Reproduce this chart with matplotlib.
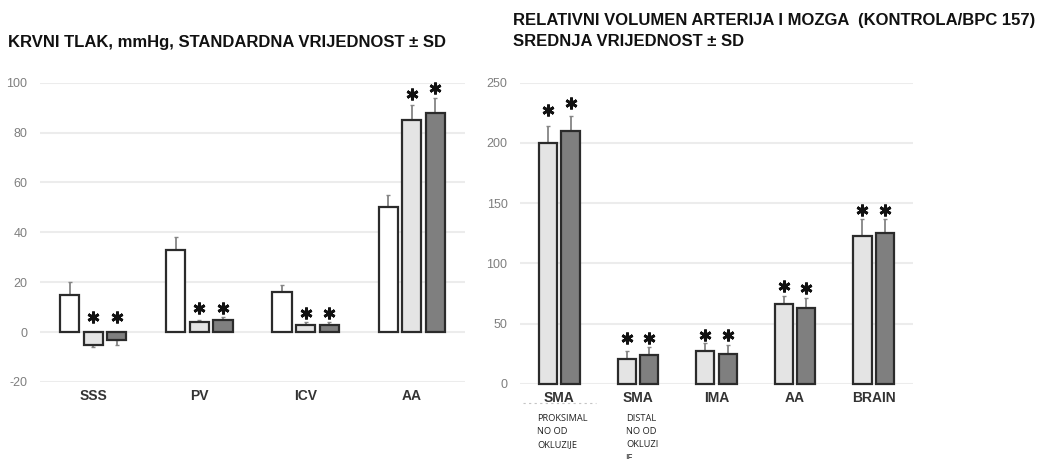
import matplotlib
matplotlib.use("Agg")
import matplotlib.pyplot as plt
import numpy as np

plt.rcParams['font.family'] = ['Liberation Sans', 'DejaVu Sans']
plt.rcParams['axes.unicode_minus'] = False

# ---- Left chart data ----
bp_categories = ["SSS", "PV", "ICV", "AA"]
bp_white = [15, 33, 16, 50]
bp_white_sd = [5, 5, 3, 5]
bp_light = [-5, 4, 3, 85]
bp_light_sd = [1, 1, 1, 6]
bp_dark = [-3, 5, 3, 88]
bp_dark_sd = [2, 1, 1, 6]
bp_star_light_y = [6, 9.5, 7.5, 95.5]
bp_star_dark_y = [6, 9.5, 7.5, 98]
bp_yticks = [-20, 0, 20, 40, 60, 80, 100]

# ---- Right chart data ----
vol_categories = ["SMA", "SMA", "IMA", "AA", "BRAIN"]
vol_light = [200, 21, 27, 66, 123]
vol_light_sd = [14, 6, 7, 7, 14]
vol_dark = [210, 24, 25, 63, 125]
vol_dark_sd = [12, 7, 7, 8, 12]
vol_star_light_y = [227, 38, 40.5, 81, 144]
vol_star_dark_y = [233, 38, 40.5, 80, 144]
vol_yticks = [0, 50, 100, 150, 200, 250]
vol_sublabels = ["PROKSIMAL\nNO OD\nOKLUZIJE", "DISTAL\nNO OD\nOKLUZI\nJE"]

title_left = "KRVNI TLAK, mmHg, STANDARDNA VRIJEDNOST ± SD"
title_right_1 = "RELATIVNI VOLUMEN ARTERIJA I MOZGA  (KONTROLA/BPC 157)"
title_right_2 = "SREDNJA VRIJEDNOST ± SD"

C_WHITE = "#ffffff"
C_LIGHT = "#e4e4e4"
C_DARK = "#7f7f7f"
EDGE = "#2b2b2b"
ERRC = "#858585"
GRID = "#ececec"
TICKC = "#7f7f7f"

fig = plt.figure(figsize=(10.45, 4.59), dpi=100)


def style_axes(ax, yticks):
    for s in ax.spines.values():
        s.set_visible(False)
    ax.set_yticks(yticks)
    ax.yaxis.grid(True, color=GRID, linewidth=1.5)
    ax.set_axisbelow(True)
    ax.tick_params(axis='y', length=0, pad=9, labelsize=9, labelcolor=TICKC)
    ax.tick_params(axis='x', length=0, pad=5, labelsize=10)
    for lbl in ax.get_xticklabels():
        lbl.set_fontweight('bold')
        lbl.set_color('#333333')


def draw_series(ax, x, vals, sds, color, width, star_y=None):
    vals = np.asarray(vals, float)
    sds = np.asarray(sds, float)
    lower = np.where(vals < 0, sds, 0)
    upper = np.where(vals >= 0, sds, 0)
    ax.bar(x, vals, width=width, color=color, edgecolor=EDGE, linewidth=1.6,
           zorder=3, clip_on=False)
    ax.errorbar(x, vals, yerr=[lower, upper], fmt='none', ecolor=ERRC,
                elinewidth=1.3, capsize=1.5, capthick=1.0, zorder=2, clip_on=False)
    if star_y is not None:
        ax.plot(x, star_y, linestyle='none', marker=(6, 2, 0), markersize=8.5,
                markeredgewidth=2.0, color='#111111', clip_on=False, zorder=4)


# ---- Left axes ----
ax1 = fig.add_axes([0.0383, 0.1678, 0.4067, 0.652])
xs = np.arange(len(bp_categories))
off = 0.222
w1 = 0.18
draw_series(ax1, xs - off, bp_white, bp_white_sd, C_WHITE, w1)
draw_series(ax1, xs, bp_light, bp_light_sd, C_LIGHT, w1, bp_star_light_y)
draw_series(ax1, xs + off, bp_dark, bp_dark_sd, C_DARK, w1, bp_star_dark_y)
ax1.set_xlim(-0.5, len(bp_categories) - 0.5)
ax1.set_ylim(-20, 100)
ax1.set_xticks(xs)
ax1.set_xticklabels(bp_categories)
style_axes(ax1, bp_yticks)

fig.text(0.008, 0.908, title_left, fontsize=12, fontweight='bold', ha='left',
         va='center', color='#111111')

# ---- Right axes ----
ax2 = fig.add_axes([0.4976, 0.1634, 0.3761, 0.6564])
xr = np.arange(len(vol_categories))
off2 = 0.143
w2 = 0.23
draw_series(ax2, xr - off2, vol_light, vol_light_sd, C_LIGHT, w2, vol_star_light_y)
draw_series(ax2, xr + off2, vol_dark, vol_dark_sd, C_DARK, w2, vol_star_dark_y)
ax2.set_xlim(-0.5, len(vol_categories) - 0.5)
ax2.set_ylim(0, 250)
ax2.set_xticks(xr)
ax2.set_xticklabels(vol_categories)
style_axes(ax2, vol_yticks)

fig.text(0.491, 1 - 20 / 459, title_right_1, fontsize=12, fontweight='bold',
         ha='left', va='center', color='#111111')
fig.text(0.491, 1 - 42 / 459, title_right_2, fontsize=12, fontweight='bold',
         ha='left', va='center', color='#111111')

# faint dotted line under first SMA label
fig.add_artist(plt.Line2D([0.500, 0.570], [0.122, 0.122], color='#c4c4c4',
                          linewidth=0.8, linestyle=(0, (2, 3))))

# sublabels
fig.text(0.514, 1 - 414 / 459, vol_sublabels[0], fontsize=6.7, ha='left', va='top',
         family=['Open Sans', 'DejaVu Sans'], color='#222222', linespacing=1.6)
fig.text(0.599, 1 - 414 / 459, vol_sublabels[1], fontsize=6.7, ha='left', va='top',
         family=['Open Sans', 'DejaVu Sans'], color='#222222', linespacing=1.6)

fig.savefig("out.png", dpi=100)
